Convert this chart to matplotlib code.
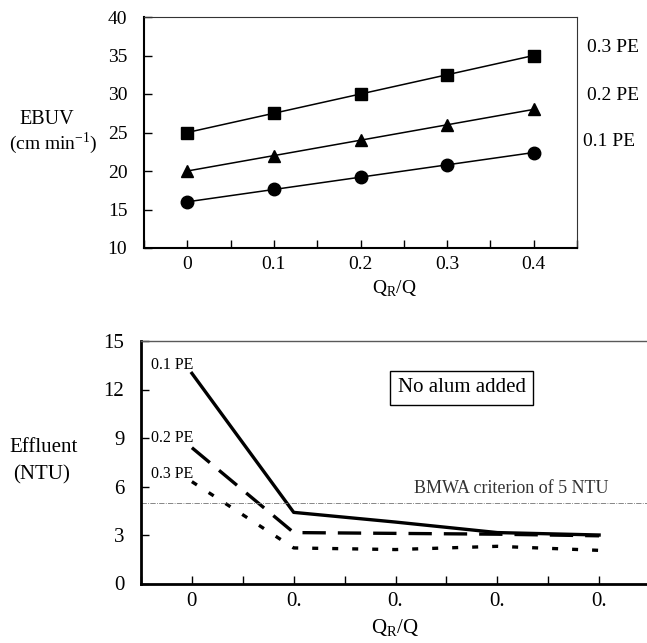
import matplotlib
matplotlib.use('Agg')
import matplotlib.pyplot as plt
from matplotlib.ticker import MultipleLocator

plt.rcParams['font.family'] = ['Liberation Serif', 'DejaVu Serif']

# top panel: EBUV vs QR/Q
qr = [0.0, 0.1, 0.2, 0.3, 0.4]
ebuv_03 = [25.0, 27.5, 30.0, 32.5, 35.0]
ebuv_02 = [20.0, 22.0, 24.0, 26.0, 28.0]
ebuv_01 = [16.0, 17.6, 19.2, 20.8, 22.4]
top_yticks = [10, 15, 20, 25, 30, 35, 40]
top_xlabels = ['0', '0.1', '0.2', '0.3', '0.4']

# bottom panel: effluent turbidity
ntu_01 = [13.0, 4.4, 3.8, 3.15, 3.0]
ntu_02 = [8.4, 3.15, 3.1, 3.05, 2.95]
ntu_03 = [6.3, 2.2, 2.1, 2.3, 2.05]
bot_yticks = [0, 3, 6, 9, 12, 15]
bot_xlabels = ['0', '0.', '0.', '0.', '0.']
criterion = 5.0

W, H = 647, 643
fig = plt.figure(figsize=(W/100, H/100), dpi=100)

def box(l, t, r, b):
    return [l/W, 1 - b/H, (r-l)/W, (b-t)/H]

# ---- top ----
ax1 = fig.add_axes(box(144, 17, 577, 248))
ax1.plot(qr, ebuv_03, 'k-', marker='s', ms=9, lw=1.1)
ax1.plot(qr, ebuv_02, 'k-', marker='^', ms=8, lw=1.1)
ax1.plot(qr, ebuv_01, 'k-', marker='o', ms=9, lw=1.1)
ax1.set_xlim(-0.05, 0.45)
ax1.set_ylim(10, 40)
ax1.set_yticks(top_yticks)
ax1.set_xticks(qr)
ax1.set_xticklabels(top_xlabels)
ax1.xaxis.set_minor_locator(MultipleLocator(0.05))
ax1.tick_params(axis='both', which='both', direction='in', length=6, width=1,
                labelsize=14)
ax1.tick_params(axis='y', pad=12)
ax1.tick_params(axis='x', pad=6)
for s in ['left', 'bottom']:
    ax1.spines[s].set_linewidth(1.5)
for s in ['top', 'right']:
    ax1.spines[s].set_linewidth(0.8)
    ax1.spines[s].set_color('0.2')

fig.text(47/W, 1 - 119/H, 'EBUV', ha='center', va='center', fontsize=14.5)
fig.text(53/W, 1 - 143/H, r'(cm min$^{\mathregular{-1}}$)', ha='center', va='center',
         fontsize=14)
fig.text(395/W, 1 - 289/H, r'Q$_{\mathregular{R}}$/Q', ha='center', va='center',
         fontsize=14)
fig.text(587/W, 1 - 47/H, '0.3 PE', ha='left', va='center', fontsize=14)
fig.text(587/W, 1 - 95/H, '0.2 PE', ha='left', va='center', fontsize=14)
fig.text(583/W, 1 - 142/H, '0.1 PE', ha='left', va='center', fontsize=14)

# ---- bottom ----
ax2 = fig.add_axes(box(141, 341, 650, 583.5))
ax2.plot(qr, ntu_01, 'k-', lw=2.4)
ax2.plot(qr, ntu_02, 'k', lw=2.4, dashes=(7, 3.6))
ax2.plot(qr, ntu_03, 'k', lw=2.4, dashes=(1.8, 4.2))
ax2.axhline(criterion, color='0.45', lw=0.6, ls='-.')
ax2.set_xlim(-0.05, 0.45)
ax2.set_ylim(0, 15)
ax2.set_yticks(bot_yticks)
ax2.set_xticks(qr)
ax2.set_xticklabels(bot_xlabels)
ax2.xaxis.set_minor_locator(MultipleLocator(0.05))
ax2.tick_params(axis='both', which='both', direction='in', length=6, width=1,
                labelsize=15)
ax2.tick_params(axis='y', pad=12)
ax2.tick_params(axis='x', pad=6)
for s in ['left', 'bottom']:
    ax2.spines[s].set_linewidth(2)
ax2.spines['top'].set_linewidth(1)
ax2.spines['top'].set_color('0.35')
ax2.spines['right'].set_visible(False)

ax2.text(-0.04, 13.5, '0.1 PE', ha='left', va='center', fontsize=11.5)
ax2.text(-0.04, 9.0, '0.2 PE', ha='left', va='center', fontsize=11.5)
ax2.text(-0.04, 6.8, '0.3 PE', ha='left', va='center', fontsize=11.5)
ax2.text(0.265, 12.1, 'No alum added', ha='center', va='center', fontsize=15,
         bbox=dict(boxstyle='square,pad=0.35', fc='white', ec='black', lw=1))
ax2.text(0.314, 5.9, 'BMWA criterion of 5 NTU', ha='center', va='center',
         fontsize=13, color='0.2')

fig.text(44/W, 1 - 448/H, 'Effluent', ha='center', va='center', fontsize=15)
fig.text(42/W, 1 - 475/H, '(NTU)', ha='center', va='center', fontsize=15)
fig.text(395/W, 1 - 628/H, r'Q$_{\mathregular{R}}$/Q', ha='center', va='center',
         fontsize=15)

fig.savefig('out.png', dpi=100)
